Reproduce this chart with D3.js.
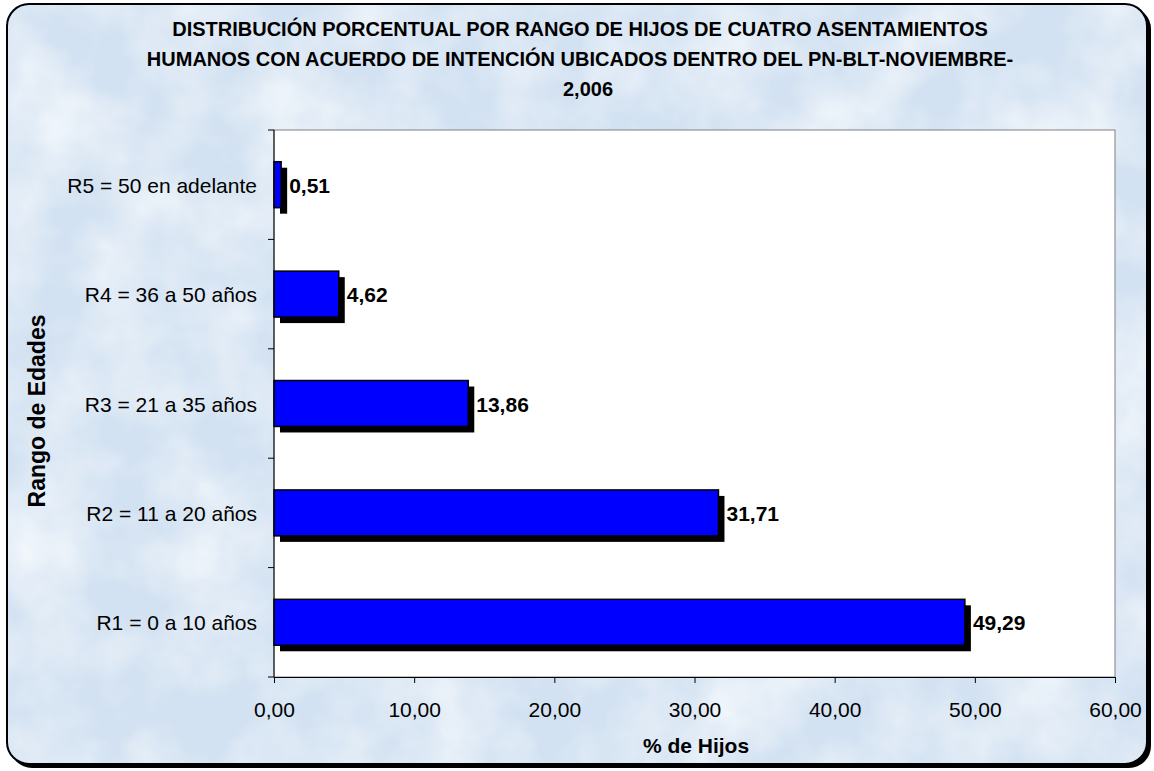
<!DOCTYPE html>
<html><head><meta charset="utf-8">
<script src="https://cdn.jsdelivr.net/npm/d3@7"></script>
<style>body{margin:0;background:#fff}svg{display:block}text{font-family:"Liberation Sans",Arial,sans-serif}</style>
</head><body><svg id="c" width="1154" height="771"></svg>
<script>
const categories = ["R1 = 0 a 10 años","R2 = 11 a 20 años","R3 = 21 a 35 años","R4 = 36 a 50 años","R5 = 50 en adelante"];
const values = [49.29, 31.71, 13.86, 4.62, 0.51];
const valueLabels = ["49,29","31,71","13,86","4,62","0,51"];
const xTicks = [0,10,20,30,40,50,60];
const titleLines = ["DISTRIBUCIÓN PORCENTUAL POR RANGO DE HIJOS DE CUATRO ASENTAMIENTOS","HUMANOS CON ACUERDO DE INTENCIÓN UBICADOS DENTRO DEL PN-BLT-NOVIEMBRE-","2,006"];

const svg = d3.select("#c");
const defs = svg.append("defs");
const flt = defs.append("filter").attr("id","noise").attr("x",0).attr("y",0).attr("width","100%").attr("height","100%");
flt.append("feTurbulence").attr("type","fractalNoise").attr("baseFrequency",0.012).attr("numOctaves",4).attr("seed",3).attr("result","n");
flt.append("feColorMatrix").attr("in","n").attr("type","matrix")
  .attr("values","0 0 0 0 1  0 0 0 0 1  0 0 0 0 1  1.6 0 0 0 -0.55");
flt.append("feComposite").attr("in2","SourceGraphic").attr("operator","in");
const clip = defs.append("clipPath").attr("id","frameclip");
clip.append("rect").attr("x",7).attr("y",4).attr("width",1140).attr("height",760).attr("rx",22);

// frame shadow + frame
svg.append("rect").attr("x",10).attr("y",7).attr("width",1141).attr("height",761).attr("rx",22).attr("fill","#000");
svg.append("rect").attr("x",7).attr("y",4).attr("width",1140).attr("height",760).attr("rx",22).attr("fill","#d3e2f2");
svg.append("rect").attr("x",7).attr("y",4).attr("width",1140).attr("height",760).attr("clip-path","url(#frameclip)")
  .attr("fill","#fff").attr("filter","url(#noise)").attr("opacity",0.75);
svg.append("rect").attr("x",7).attr("y",4).attr("width",1140).attr("height",760).attr("rx",22)
  .attr("fill","none").attr("stroke","#000").attr("stroke-width",2);

const m = {l:274, r:1115, t:130, b:677};
const x = d3.scaleLinear().domain([0,60]).range([m.l, m.r]);
const y = d3.scaleBand().domain(categories.slice().reverse()).range([m.t, m.b]).paddingInner(0.58).paddingOuter(0.29);

svg.append("rect").attr("x",m.l).attr("y",m.t).attr("width",m.r-m.l).attr("height",m.b-m.t)
  .attr("fill","#fff").attr("stroke","#808080").attr("stroke-width",1);

// title
svg.append("g").selectAll("text").data(titleLines).join("text")
  .attr("x",(d,i)=>i===2?588:580).attr("y",(d,i)=>36+i*30).attr("text-anchor","middle")
  .attr("font-size",20).attr("font-weight","bold").attr("fill","#000").text(d=>d);

const data = categories.map((c,i)=>({c, v:values[i], l:valueLabels[i]}));
const off = 6;
// shadows
svg.append("g").selectAll("rect").data(data).join("rect")
  .attr("x",m.l+off).attr("y",d=>y(d.c)+off).attr("width",d=>x(d.v)-m.l).attr("height",y.bandwidth()).attr("fill","#000");
// bars
svg.append("g").selectAll("rect").data(data).join("rect")
  .attr("x",m.l).attr("y",d=>y(d.c)).attr("width",d=>x(d.v)-m.l).attr("height",y.bandwidth())
  .attr("fill","#0000ff").attr("stroke","#000").attr("stroke-width",1.5);
// value labels
svg.append("g").selectAll("text").data(data).join("text")
  .attr("x",d=>x(d.v)+off+2).attr("y",d=>y(d.c)+y.bandwidth()/2+8)
  .attr("font-size",21).attr("font-weight","bold").attr("fill","#000").text(d=>d.l);

// x axis
const fmt = d=>d3.format(".2f")(d).replace(".",",");
const xa = svg.append("g").attr("transform",`translate(0,${m.b})`)
  .call(d3.axisBottom(x).tickValues(xTicks).tickFormat(fmt).tickSize(6).tickSizeOuter(0));
xa.select(".domain").attr("stroke","#000");
xa.selectAll(".tick line").attr("stroke","#000");
xa.selectAll("text").attr("font-size",21).attr("fill","#000").attr("y",40).attr("dy",null)
  .style("font-family","'Liberation Sans',Arial,sans-serif");

// y axis
const ya = svg.append("g").attr("transform",`translate(${m.l},0)`);
ya.append("line").attr("x1",0).attr("x2",0).attr("y1",m.t).attr("y2",m.b).attr("stroke","#000");
const step = (m.b-m.t)/categories.length;
ya.selectAll("line.tk").data(d3.range(categories.length+1)).join("line").attr("class","tk")
  .attr("x1",-6).attr("x2",0).attr("y1",i=>m.t+i*step).attr("y2",i=>m.t+i*step).attr("stroke","#000");
ya.selectAll("text").data(data).join("text")
  .attr("x",-17).attr("y",d=>y(d.c)+y.bandwidth()/2+8).attr("text-anchor","end")
  .attr("font-size",21).attr("fill","#000").text(d=>d.c);

// axis titles
svg.append("text").attr("x",696).attr("y",753).attr("text-anchor","middle")
  .attr("font-size",21).attr("font-weight","bold").text("% de Hijos");
svg.append("text").attr("transform","translate(45,411) rotate(-90)").attr("text-anchor","middle")
  .attr("font-size",23).attr("font-weight","bold").text("Rango de Edades");
</script></body></html>
